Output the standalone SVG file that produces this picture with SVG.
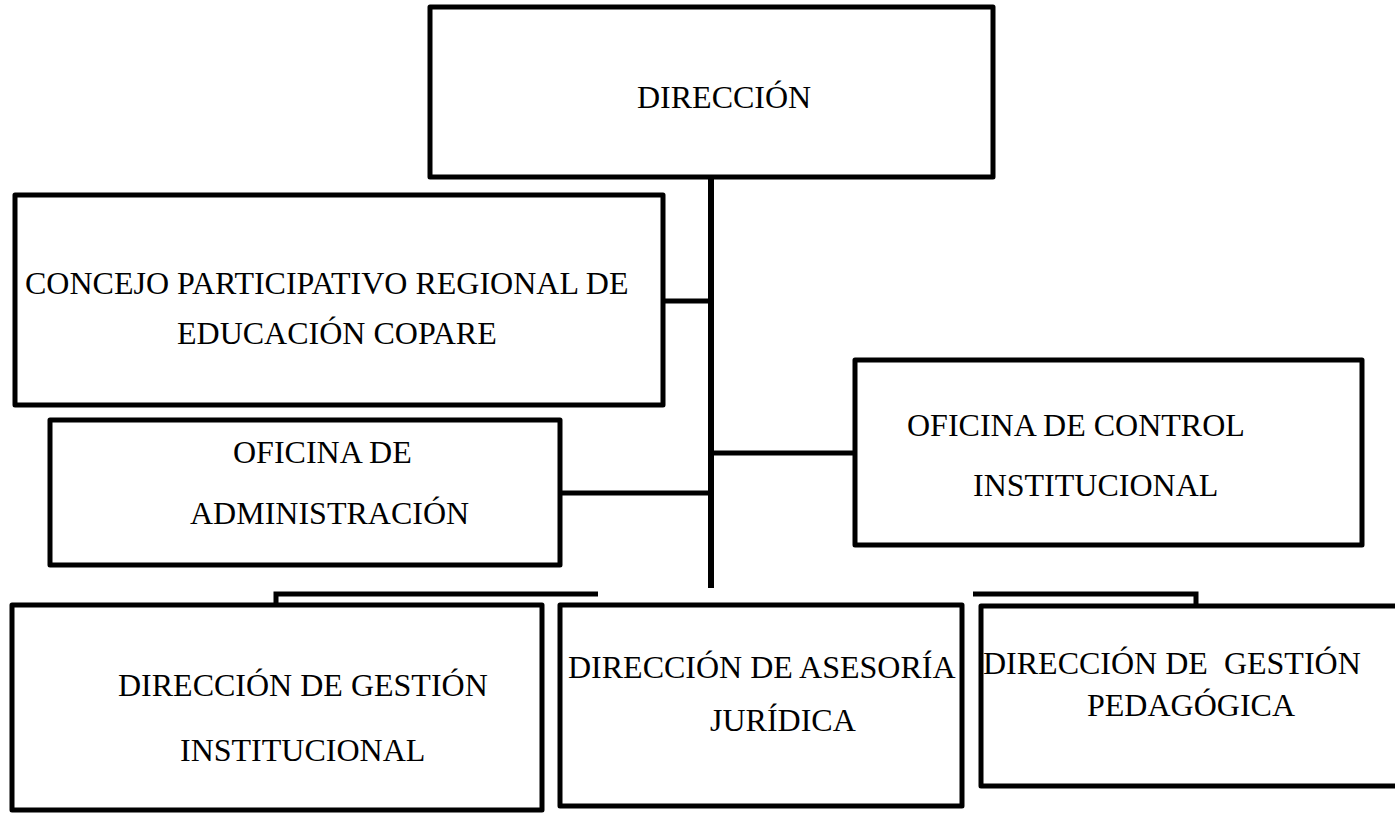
<svg xmlns="http://www.w3.org/2000/svg" width="1395" height="813" viewBox="0 0 1395 813">
<style>
.box{fill:#fff;stroke:#000;stroke-width:5;stroke-linejoin:round}
.ln{fill:none;stroke:#000;stroke-width:5}
.trunk{fill:none;stroke:#000;stroke-width:6}
text{font-family:"Liberation Serif","Times New Roman",serif;font-size:32px;fill:#000}
</style>
<rect width="1395" height="813" fill="#fff"/>
<g id="connectors">
<line class="trunk" x1="711" y1="177" x2="711" y2="588"/>
<line class="ln" x1="663" y1="301" x2="711" y2="301"/>
<line class="ln" x1="560" y1="493" x2="711" y2="493"/>
<line class="ln" x1="711" y1="453" x2="853" y2="453"/>
<path class="ln" d="M598 594 H276 V605"/>
<path class="ln" d="M973 594 H1196 V606"/>
</g>
<g id="n-direccion">
<rect class="box" x="430" y="7" width="563" height="170"/>
<text x="637" y="108">DIRECCIÓN</text>
</g>
<g id="n-concejo">
<rect class="box" x="15" y="195" width="648" height="210"/>
<text x="25" y="294">CONCEJO PARTICIPATIVO REGIONAL DE</text>
<text x="177" y="344">EDUCACIÓN COPARE</text>
</g>
<g id="n-administracion">
<rect class="box" x="50" y="420" width="510" height="145"/>
<text x="233" y="463">OFICINA DE</text>
<text x="190" y="524">ADMINISTRACIÓN</text>
</g>
<g id="n-control">
<rect class="box" x="855" y="360" width="507" height="185"/>
<text x="907" y="436">OFICINA DE CONTROL</text>
<text x="973" y="496">INSTITUCIONAL</text>
</g>
<g id="n-gestion-institucional">
<rect class="box" x="12" y="605" width="530" height="205"/>
<text x="118" y="696">DIRECCIÓN DE GESTIÓN</text>
<text x="180" y="761">INSTITUCIONAL</text>
</g>
<g id="n-asesoria">
<rect class="box" x="560" y="605" width="402" height="201"/>
<text x="568" y="678">DIRECCIÓN DE ASESORÍA</text>
<text x="710" y="731">JURÍDICA</text>
</g>
<g id="n-pedagogica">
<rect class="box" x="981" y="606" width="425" height="180"/>
<text x="983" y="674" xml:space="preserve">DIRECCIÓN DE  GESTIÓN</text>
<text x="1087" y="716">PEDAGÓGICA</text>
</g>
</svg>
